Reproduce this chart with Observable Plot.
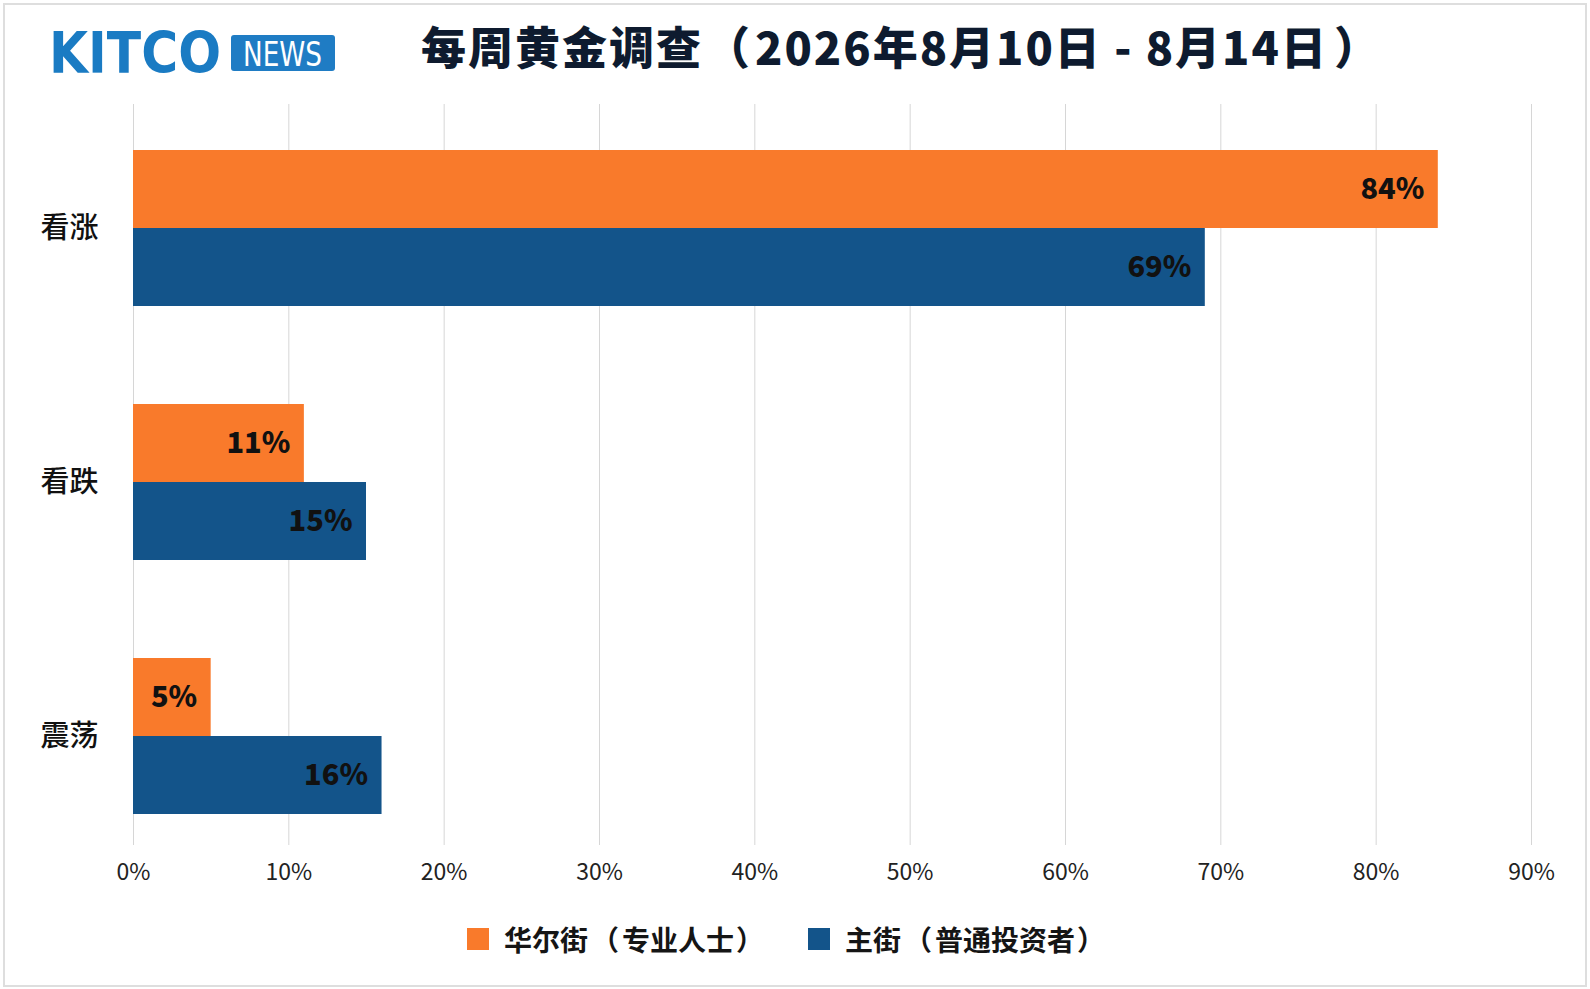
<!DOCTYPE html>
<html>
<head>
<meta charset="utf-8">
<script src="https://cdn.jsdelivr.net/npm/d3@7"></script>
<script src="https://cdn.jsdelivr.net/npm/@observablehq/plot@0.6"></script>
<style>
  html, body { margin: 0; padding: 0; background: #fff; }
  body { width: 1590px; height: 989px; position: relative; overflow: hidden;
         font-family: "Noto Sans CJK SC", "Noto Sans", sans-serif; }
  #frame { position: absolute; left: 3px; top: 3px; width: 1584px; height: 984px;
           border: 2px solid #dedede; box-sizing: border-box; }
  #logo { position: absolute; left: 0; top: 0; }
  #title { position: absolute; left: 421px; top: 18px; font-size: 45px; font-weight: 800;
           color: #0e1b2f; line-height: 56px; white-space: nowrap; letter-spacing: 2px; }
  #title .lp { margin-left: 2px; margin-right: 3px; }
  #title .rp { margin-left: 6px; }
  #chart { position: absolute; left: 0; top: 90px; }
  #legend { position: absolute; left: 0; top: 918px; width: 1590px; height: 42px; }
  .item { position: absolute; top: 0; height: 42px; display: flex; align-items: center;
          font-size: 28px; font-weight: 700; color: #151515; white-space: nowrap; }
  .item .lp { margin-left: 3px; margin-right: 3px; }
  .item .rp { margin-left: 2px; }
  .sw { width: 22px; height: 22px; margin-right: 15px; }
</style>
</head>
<body>
<div id="frame"></div>
<svg id="logo" width="360" height="90">
  <text x="49" y="73" font-family="DejaVu Sans Condensed, Liberation Sans Narrow, sans-serif" font-weight="bold" font-size="57" fill="#1a7bc3" textLength="172" lengthAdjust="spacingAndGlyphs">KITCO</text>
  <rect x="231" y="35" width="104" height="36" rx="3" fill="#1f7cc4"></rect>
  <text x="243" y="66" font-family="Liberation Sans Narrow, DejaVu Sans Condensed, sans-serif" font-size="33" fill="#ffffff" textLength="79" lengthAdjust="spacingAndGlyphs">NEWS</text>
</svg>
<div id="title">每周黄金调查<span class="lp">（</span>2026年8月10日 - 8月14日<span class="rp">）</span></div>
<div id="chart"></div>
<div id="legend"></div>
<script>
const categories = ["看涨", "看跌", "震荡"];
const seriesNames = ["华尔街（专业人士）", "主街（普通投资者）"];
const wallStreet = [84, 11, 5];
const mainStreet = [69, 15, 16];
const xTicks = [0, 10, 20, 30, 40, 50, 60, 70, 80, 90];
const seriesColors = ["#f97a2b", "#13548a"];

const wallRows = categories.map((c, i) => ({cat: c, series: seriesNames[0], value: wallStreet[i]}));
const mainRows = categories.map((c, i) => ({cat: c, series: seriesNames[1], value: mainStreet[i]}));

const chart = Plot.plot({
  width: 1590,
  height: 810,
  marginLeft: 133,
  marginRight: 59,
  marginTop: 14,
  marginBottom: 55,
  style: {fontFamily: '"Noto Sans CJK SC", "Noto Sans", sans-serif', background: "transparent"},
  x: {domain: [0, 90], ticks: xTicks, label: null},
  y: {domain: categories, range: [59.5, 724.5], paddingInner: 0.387, paddingOuter: 0, label: null},
  color: {domain: seriesNames, range: seriesColors},
  marks: [
    Plot.gridX(xTicks, {stroke: "#d6d6d6", strokeOpacity: 1, strokeWidth: 1}),
    Plot.barX(wallRows, {x: "value", y: "cat", fill: "series", insetBottom: 78}),
    Plot.barX(mainRows, {x: "value", y: "cat", fill: "series", insetTop: 78}),
    Plot.text(wallRows, {x: "value", y: "cat", text: d => d.value + "%", textAnchor: "end",
      dx: -14, dy: -39, fontSize: 29, fontWeight: 900, fill: "#111"}),
    Plot.text(mainRows, {x: "value", y: "cat", text: d => d.value + "%", textAnchor: "end",
      dx: -14, dy: 39, fontSize: 29, fontWeight: 900, fill: "#111"}),
    Plot.axisX(xTicks, {tickSize: 0, tickPadding: 18, tickFormat: d => d + "%", fontSize: 23, fill: "#222", label: null}),
    Plot.axisY({tickSize: 0, tickPadding: 35, fontSize: 29, fontWeight: 500, fill: "#111", label: null})
  ]
});
document.getElementById("chart").appendChild(chart);

const legendPos = [467, 808];
const legend = document.getElementById("legend");
seriesNames.forEach((name, i) => {
  const item = document.createElement("div");
  item.className = "item";
  item.style.left = legendPos[i] + "px";
  const sw = document.createElement("div");
  sw.className = "sw";
  sw.style.background = seriesColors[i];
  const label = document.createElement("span");
  // split so the full-width brackets can be given their visual spacing
  const m = name.match(/^(.*?)（(.*)）$/);
  const a = document.createElement("span"); a.textContent = m[1];
  const lp = document.createElement("span"); lp.className = "lp"; lp.textContent = "（";
  const b = document.createElement("span"); b.textContent = m[2];
  const rp = document.createElement("span"); rp.className = "rp"; rp.textContent = "）";
  label.append(a, lp, b, rp);
  item.appendChild(sw);
  item.appendChild(label);
  legend.appendChild(item);
});
</script>
</body>
</html>
